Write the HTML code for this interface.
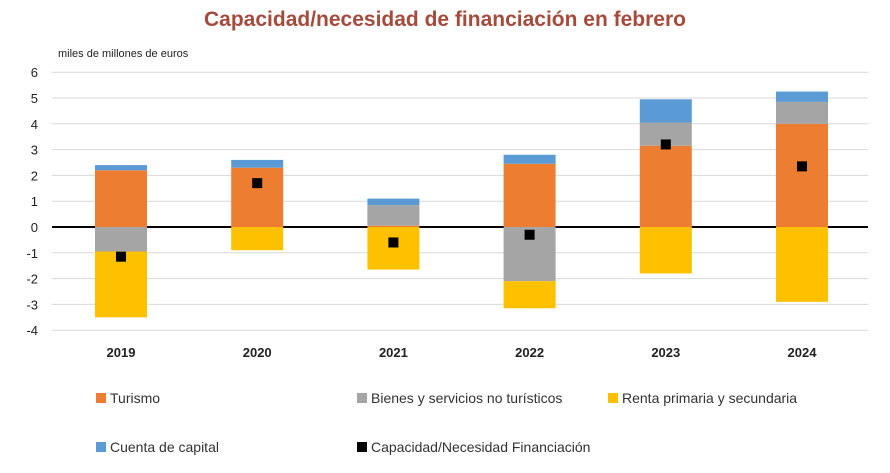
<!DOCTYPE html>
<html><head><meta charset="utf-8"><style>
body{margin:0;background:#fff;width:890px;height:468px;overflow:hidden;font-family:"Liberation Sans",sans-serif}
</style></head><body>
<svg width="890" height="468" id="c">
<text x="445" y="26" text-anchor="middle" font-size="21" font-weight="bold" fill="#A64B3C">Capacidad/necesidad de financiación en febrero</text>
<text x="58" y="57" font-size="11" fill="#222">miles de millones de euros</text>
</svg>
<script>
const years=["2019","2020","2021","2022","2023","2024"];
const turismo=[2.2,2.3,0.05,2.45,3.15,4.0];
const bienes=[-0.95,0,0.8,-2.1,0.9,0.85];
const renta=[-2.55,-0.9,-1.65,-1.05,-1.8,-2.9];
const capital=[0.2,0.3,0.25,0.35,0.9,0.4];
const neto=[-1.15,1.7,-0.6,-0.3,3.2,2.35];
const yTicks=[-4,-3,-2,-1,0,1,2,3,4,5,6];
const svg=document.getElementById('c');const NS="http://www.w3.org/2000/svg";
const y=v=>227-v*25.8;const x=i=>121+i*136.2;const bw=52;
function mk(t,a){const e=document.createElementNS(NS,t);for(const k in a)e.setAttribute(k,a[k]);svg.appendChild(e);return e;}
yTicks.forEach(t=>{
 const g=mk('line',{x1:52,x2:868,y1:y(t),y2:y(t),stroke:t===0?'#000':'#d9d9d9','stroke-width':t===0?2:1});
 
 
 const l=mk('text',{x:38,y:y(t)+5,'text-anchor':'end','font-size':13,fill:'#222'});l.textContent=t;
 
 
});
const series=[[turismo,'#ED7D31','turismo'],[bienes,'#A5A5A5','bienes'],[renta,'#FFC000','renta'],[capital,'#5B9BD5','capital']];
years.forEach((yr,i)=>{
 let pos=0,neg=0;
 series.forEach(([arr,col,nm])=>{
  const v=arr[i];if(!v)return;let a,b;
  if(v>0){a=pos;b=pos+v;pos=b;}else{a=neg;b=neg+v;neg=b;}
  const r=mk('rect',{x:x(i)-bw/2,width:bw,y:y(Math.max(a,b)),height:Math.abs(y(a)-y(b)),fill:col});
  
  
 });
 const m=mk('rect',{x:x(i)-5,y:y(neto[i])-5,width:10,height:10,fill:'#000'});
 
 
 const t=mk('text',{x:x(i),y:357,'text-anchor':'middle','font-size':13,'font-weight':'bold',fill:'#222'});t.textContent=yr;
 
 
});
const leg=[[96,398,'#ED7D31','Turismo'],[357,398,'#A5A5A5','Bienes y servicios no turísticos'],[608,398,'#FFC000','Renta primaria y secundaria'],[96,447,'#5B9BD5','Cuenta de capital'],[357,447,'#000','Capacidad/Necesidad Financiación']];
leg.forEach(([lx,ly,c,s])=>{
 const r=mk('rect',{x:lx,y:ly-5,width:10,height:10,fill:c});
 
 
 const t=mk('text',{x:lx+14,y:ly+5,'font-size':14,fill:'#333'});t.textContent=s;
 
 
});
</script>
</body></html>
